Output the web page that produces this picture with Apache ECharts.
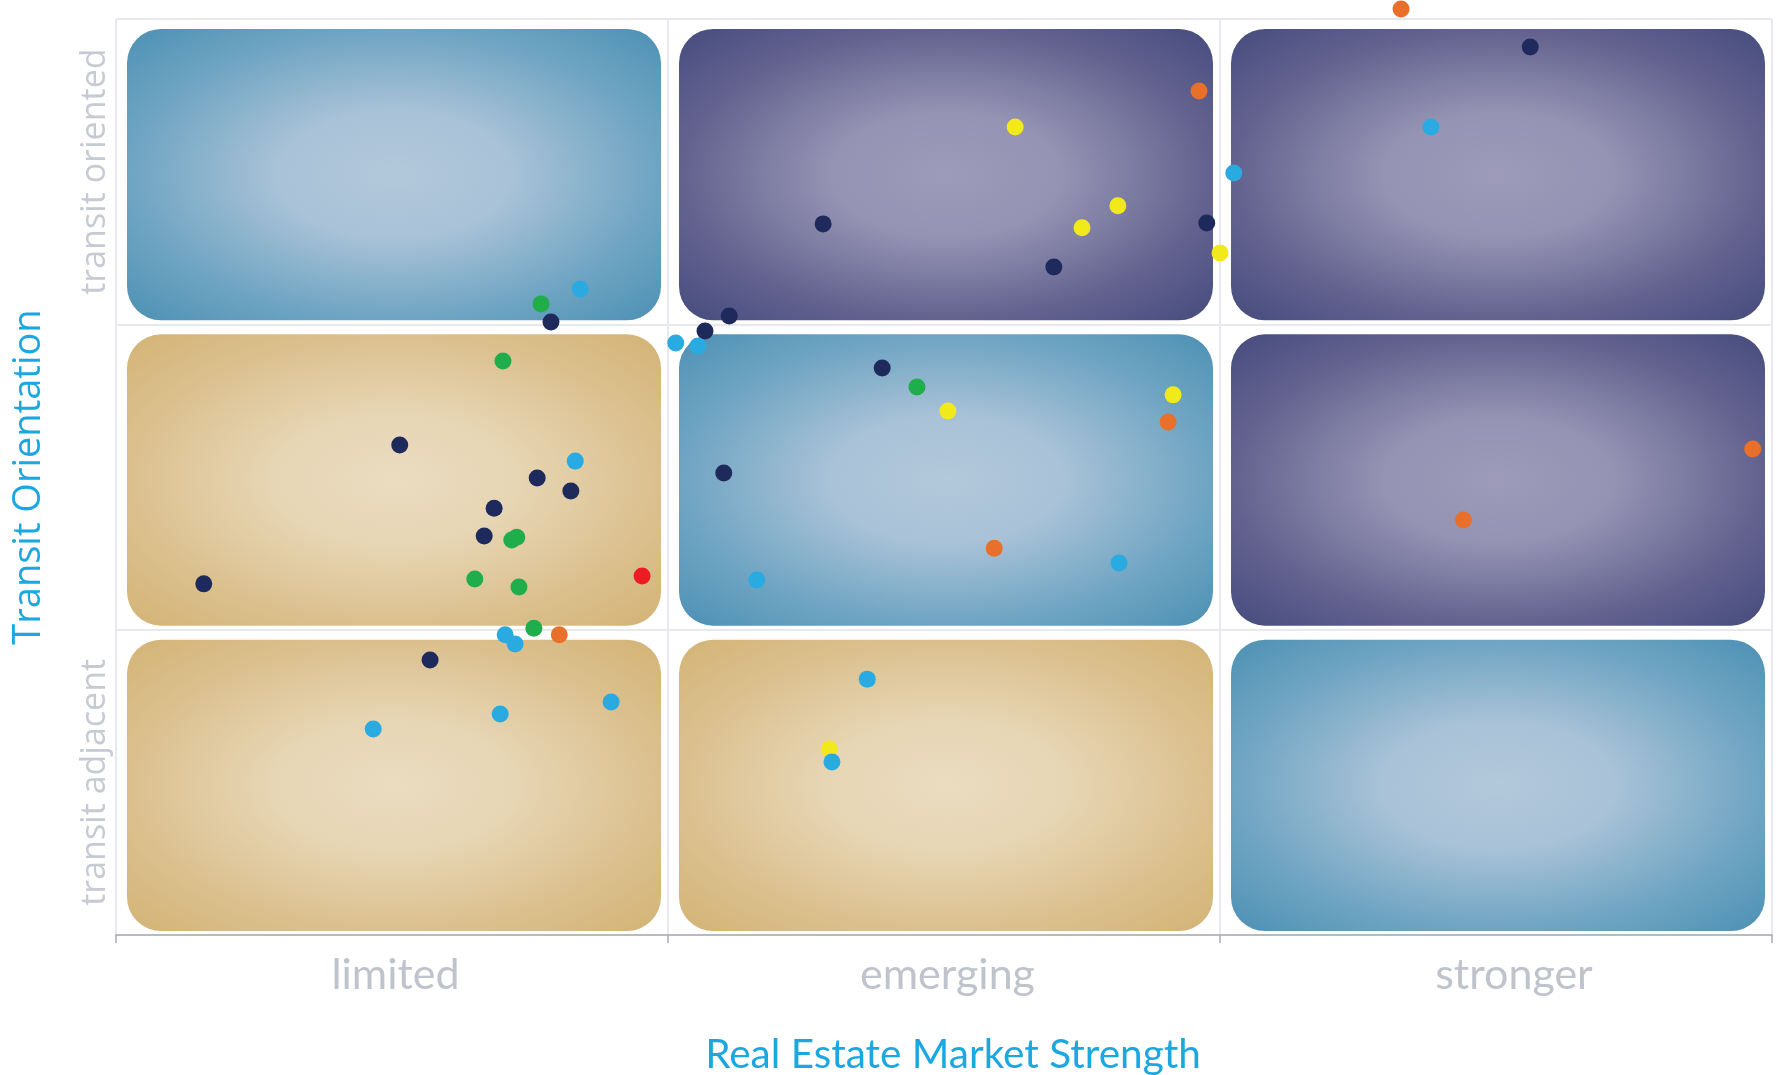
<!DOCTYPE html>
<html>
<head>
<meta charset="utf-8">
<script src="https://cdn.jsdelivr.net/npm/echarts@6/dist/echarts.min.js"></script>
<style>
html,body{margin:0;padding:0;background:#fff;}
#chart{width:1785px;height:1075px;}
</style>
</head>
<body>
<div id="chart"></div>
<script>
// Category labels
const xCategories = ['limited', 'emerging', 'stronger'];
const yCategories = ['transit adjacent', 'transit related', 'transit oriented'];

// Quadrant cells: [column, row, fillType]
const cells = [
  [0, 2, 'blue'], [1, 2, 'purple'], [2, 2, 'purple'],
  [0, 1, 'tan'],  [1, 1, 'blue'],   [2, 1, 'purple'],
  [0, 0, 'tan'],  [1, 0, 'tan'],    [2, 0, 'blue']
];

// Points: [market strength, transit orientation] on a 0–3 scale
const greenPoints = [
  [0.770, 2.067], [0.701, 1.880], [1.451, 1.795], [0.717, 1.294],
  [0.726, 1.303], [0.650, 1.166], [0.730, 1.140], [0.757, 1.005]
];
const yellowPoints = [
  [1.629, 2.646], [1.815, 2.388], [1.750, 2.316], [2.000, 2.234],
  [1.915, 1.769], [1.507, 1.716], [1.292, 0.609]
];
const orangePoints = [
  [1.962, 2.764], [2.328, 3.033], [1.906, 1.680], [1.591, 1.267],
  [0.803, 0.983], [2.965, 1.592], [2.441, 1.359]
];
const redPoints = [
  [0.953, 1.176]
];
const navyPoints = [
  [0.788, 2.008], [1.111, 2.027], [1.067, 1.978], [1.281, 2.329],
  [1.976, 2.332], [1.699, 2.188], [2.562, 2.908], [1.388, 1.857],
  [0.514, 1.605], [0.763, 1.497], [0.824, 1.454], [0.685, 1.398],
  [0.667, 1.307], [0.159, 1.150], [1.101, 1.513], [0.569, 0.901]
];
const cyanPoints = [
  [0.841, 2.116], [2.025, 2.496], [1.014, 1.939], [1.054, 1.929],
  [2.382, 2.646], [0.832, 1.552], [0.705, 0.983], [0.723, 0.953],
  [1.817, 1.218], [1.161, 1.163], [1.361, 0.838], [0.897, 0.763],
  [0.696, 0.724], [0.466, 0.675], [1.297, 0.567]
];

const palettes = {
  blue:   ['#b2c8db', '#a9c2d7', '#6ea4c2', '#4a8fb3'],
  purple: ['#9d9bb9', '#9493b3', '#63628f', '#434a7c'],
  tan:    ['#eadcc0', '#e7d6b5', '#dbc08e', '#d3b273']
};

function renderCell(params, api) {
  const col = api.value(0), row = api.value(1);
  const type = cells[params.dataIndex][2];
  const p0 = api.coord([col, row + 1]);
  const p1 = api.coord([col + 1, row]);
  const x = p0[0] + 11, y = p0[1] + 10;
  const w = (p1[0] - 7) - x, h = (p1[1] - 4) - y;
  const k = w / h;
  const R = 34;
  const a = h / 2, b = h / 2;
  const rx = R / k, ry = R;
  const d = `M ${-a + rx} ${-b} L ${a - rx} ${-b} A ${rx} ${ry} 0 0 1 ${a} ${-b + ry} ` +
            `L ${a} ${b - ry} A ${rx} ${ry} 0 0 1 ${a - rx} ${b} ` +
            `L ${-a + rx} ${b} A ${rx} ${ry} 0 0 1 ${-a} ${b - ry} ` +
            `L ${-a} ${-b + ry} A ${rx} ${ry} 0 0 1 ${-a + rx} ${-b} Z`;
  const c = palettes[type];
  return {
    type: 'path',
    x: x + w / 2,
    y: y + h / 2,
    scaleX: k,
    shape: { pathData: d, x: -a, y: -b, width: h, height: h },
    style: {
      fill: {
        type: 'radial', x: 0, y: 0, r: 0.72 * h, global: true,
        colorStops: [
          { offset: 0, color: c[0] },
          { offset: 0.3, color: c[1] },
          { offset: 0.69, color: c[2] },
          { offset: 1, color: c[3] }
        ]
      }
    }
  };
}

function dotSeries(name, color, data) {
  return {
    name: name, type: 'scatter', xAxisIndex: 1, yAxisIndex: 1,
    data: data, symbolSize: 17, clip: false, z: 5,
    itemStyle: { color: color, opacity: 1 },
    emphasis: { disabled: true }
  };
}

const chart = echarts.init(document.getElementById('chart'), null, { renderer: 'canvas' });
chart.setOption({
  animation: false,
  backgroundColor: '#ffffff',
  grid: { left: 116, right: 13, top: 19, bottom: 140, containLabel: false, outerBoundsMode: 'none' },
  xAxis: [
    {
      type: 'category', data: xCategories, boundaryGap: true, position: 'bottom',
      axisLine: { show: true, lineStyle: { color: '#a9abb0', width: 1.5 } },
      axisTick: { show: true, length: 8, lineStyle: { color: '#a9abb0', width: 1.5 } },
      axisLabel: {
        color: '#bfc3cc', fontFamily: 'Lato', fontSize: 43, margin: 19,
        formatter: function (v) { return v === 'stronger' ? '{s|' + v + '}' : '{n|' + v + '}'; },
        rich: {
          n: { color: '#bfc3cc', fontFamily: 'Lato', fontSize: 43, padding: [0, 0, 0, 7] },
          s: { color: '#bfc3cc', fontFamily: 'Lato', fontSize: 43, padding: [0, 0, 0, 36] }
        }
      },
      splitLine: { show: false },
      name: 'Real Estate Market Strength', nameLocation: 'middle', nameGap: 99,
      nameTextStyle: { color: '#1ba8e0', fontFamily: 'Lato', fontSize: 40.5, padding: [0, 0, 0, 18] }
    },
    {
      type: 'value', min: 0, max: 3, interval: 1, position: 'top',
      axisLine: { show: false }, axisTick: { show: false }, axisLabel: { show: false },
      splitLine: { show: true, lineStyle: { color: '#e7e9ed', width: 2 } }
    }
  ],
  yAxis: [
    {
      type: 'category', data: yCategories, boundaryGap: true, position: 'left',
      axisLine: { show: false }, axisTick: { show: false },
      axisLabel: { rotate: 90, color: '#c6cad3', fontFamily: 'Open Sans', fontSize: 34, margin: 4 },
      splitLine: { show: false },
      name: 'Transit Orientation', nameLocation: 'middle', nameGap: 68,
      nameTextStyle: { color: '#1ba8e0', fontFamily: 'Open Sans', fontSize: 38 }
    },
    {
      type: 'value', min: 0, max: 3, interval: 1, position: 'right',
      axisLine: { show: false }, axisTick: { show: false }, axisLabel: { show: false },
      splitLine: { show: true, lineStyle: { color: '#e7e9ed', width: 2 } }
    }
  ],
  series: [
    {
      type: 'custom', xAxisIndex: 1, yAxisIndex: 1, z: 1,
      data: cells.map(c => [c[0], c[1]]),
      renderItem: renderCell, silent: true, clip: false
    },
    dotSeries('green', '#1fae4b', greenPoints),
    dotSeries('yellow', '#f2e91b', yellowPoints),
    dotSeries('orange', '#e8702a', orangePoints),
    dotSeries('red', '#ed1c24', redPoints),
    dotSeries('navy', '#1f2a5c', navyPoints),
    dotSeries('cyan', '#29abe2', cyanPoints)
  ]
});
</script>
</body>
</html>
